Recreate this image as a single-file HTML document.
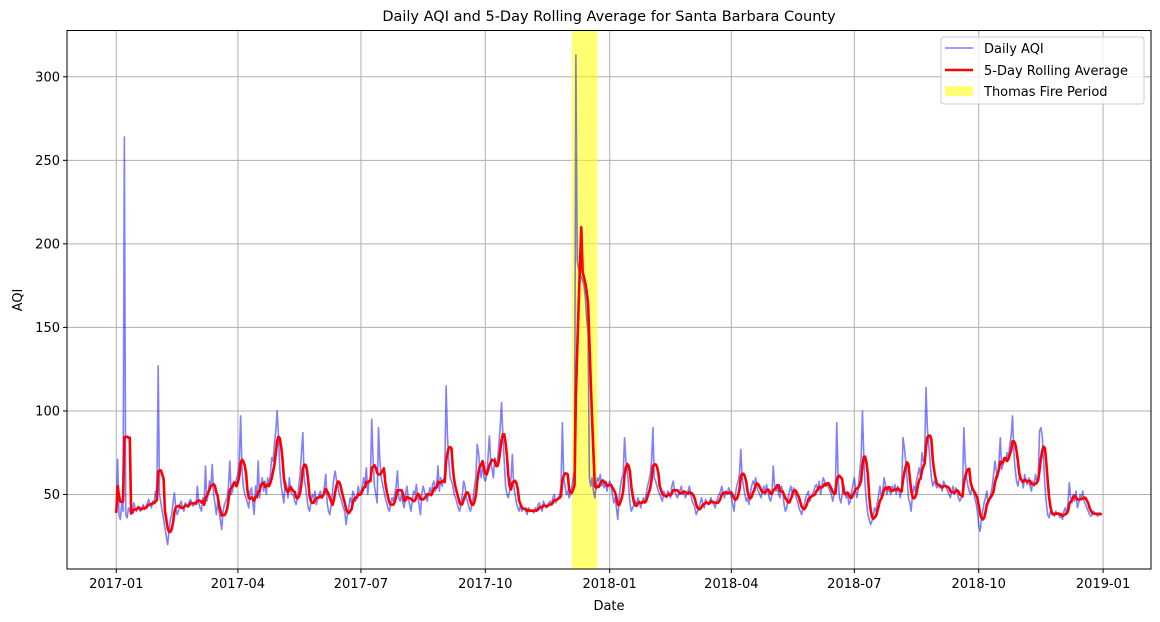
<!DOCTYPE html>
<html><head><meta charset="utf-8"><style>
body{margin:0;background:#fff;}
svg{display:block;font-family:"DejaVu Sans","Liberation Sans",sans-serif;}
</style></head><body>
<svg id="chart" width="1160" height="622" viewBox="0 0 1160 622" xmlns="http://www.w3.org/2000/svg">
<rect x="0" y="0" width="1160" height="622" fill="#fff"/>
<g id="grid"></g>
<rect id="fire" fill="#ffff00" fill-opacity="0.55"/>
<polyline id="daily" fill="none" stroke="#0000ff" stroke-opacity="0.5" stroke-width="1.6" stroke-linejoin="round"/>
<polyline id="rolling" fill="none" stroke="#ff0000" stroke-width="2.6" stroke-linejoin="round"/>
<rect x="67" y="30.5" width="1084" height="538.5" fill="none" stroke="#000" stroke-width="1"/>
<g id="xticks"></g>
<g id="yticks"></g>
<text x="609" y="21" text-anchor="middle" font-size="14.5">Daily AQI and 5-Day Rolling Average for Santa Barbara County</text>
<text x="609" y="610" text-anchor="middle" font-size="13">Date</text>
<text x="22" y="300" text-anchor="middle" font-size="13" transform="rotate(-90 22 300)">AQI</text>
<g>
<rect x="941" y="37" width="203" height="67" rx="3" fill="#fff" fill-opacity="0.8" stroke="#ccc"/>
<line x1="945" y1="48" x2="973" y2="48" stroke="#0000ff" stroke-opacity="0.5" stroke-width="1.6"/>
<text x="984" y="53" font-size="13">Daily AQI</text>
<line x1="945" y1="70" x2="973" y2="70" stroke="#ff0000" stroke-width="2.6"/>
<text x="984" y="75" font-size="13">5-Day Rolling Average</text>
<rect x="945" y="86" width="28" height="10" fill="#ffff00" fill-opacity="0.55"/>
<text x="984" y="96" font-size="13">Thomas Fire Period</text>
</g>
</svg>
<script>
const aqi2017=[
39,71,38,35,45,40,264,38,36,42,40,38,40,45,42,40,43,41,40,42,44,41,43,45,47,44,42,46,45,52,48,
127,50,45,40,35,30,25,20,28,35,38,45,51,42,38,40,44,46,42,40,45,44,43,46,47,44,43,45,
44,55,45,42,40,48,44,67,46,50,58,55,68,50,45,38,45,40,35,29,40,44,46,48,55,70,50,52,58,55,60,
62,70,97,65,55,50,48,45,42,52,54,45,38,55,50,70,48,55,60,52,58,50,60,55,62,72,70,80,88,100,
85,65,55,50,45,58,55,48,60,52,50,50,46,44,48,55,62,75,87,60,55,48,42,40,45,50,48,52,44,47,50,
52,48,50,55,62,45,40,38,44,52,60,64,58,55,50,48,45,42,40,32,38,42,48,45,52,50,46,48,55,50,
52,54,60,56,66,50,58,60,95,70,55,50,45,90,70,60,56,52,48,45,42,40,44,48,46,50,55,64,48,46,50,
45,42,50,55,48,44,40,46,52,50,56,48,44,38,50,55,52,48,46,50,54,50,56,58,52,55,67,52,60,55,58,
62,115,85,70,60,58,55,50,48,45,42,40,44,50,58,55,48,45,42,40,44,48,55,60,80,75,65,60,70,60,
58,62,72,85,70,65,60,72,68,70,80,90,105,85,70,55,50,48,52,60,74,55,50,45,42,40,44,40,42,41,40,
38,42,40,41,40,39,42,40,44,45,42,40,46,44,42,43,45,46,44,48,50,45,47,48,50,55,93,60,55,50,
52,48,50,55,60,65,313,190,185,182,180,178,175,168,155,147,60,55,60,52,48,55,60,58,62,55,57,54,58,52,56];
const aqi2018=[
58,55,50,45,48,42,35,48,55,60,62,84,70,65,55,45,40,42,44,46,44,48,45,42,46,48,45,50,55,58,62,
70,90,60,58,55,52,50,48,46,52,50,48,52,50,48,55,58,52,50,48,50,52,55,50,52,48,50,52,
55,50,46,44,42,38,40,42,45,48,44,42,47,45,44,46,48,45,44,42,46,48,50,52,55,50,48,52,50,54,52,
48,44,40,50,55,58,62,77,60,55,50,46,48,44,50,55,58,56,60,54,52,50,48,52,55,50,56,52,48,46,
50,67,55,52,54,50,48,55,52,44,40,42,48,52,55,50,54,52,48,46,42,40,38,42,44,48,50,52,46,48,50,
52,55,56,52,58,50,55,60,58,55,56,54,52,50,46,50,55,93,60,48,45,50,56,52,48,50,44,46,52,56,
60,52,48,55,64,72,100,72,55,45,38,35,32,34,38,42,40,45,50,55,48,52,60,56,50,54,52,50,55,52,56,
50,55,52,48,54,84,78,70,60,48,45,40,50,55,52,58,62,66,60,75,70,72,114,90,80,70,60,55,58,56,54,
56,54,55,52,58,56,54,52,50,48,52,55,50,54,52,48,46,48,50,90,70,60,55,52,50,54,52,48,45,40,
32,28,35,40,45,48,52,44,48,50,55,62,70,64,60,70,84,65,68,72,70,75,72,80,85,97,75,65,58,55,60,
60,58,54,62,58,56,60,55,52,58,55,62,58,60,88,90,85,70,55,45,38,36,40,38,39,37,40,38,39,36,
38,35,40,42,38,44,57,48,45,50,46,52,42,45,50,48,52,46,44,42,40,38,37,38,40,39,38,37,38,39,38];
const yTicks=[50,100,150,200,250,300];
const xTickLabels=["2017-01","2017-04","2017-07","2017-10","2018-01","2018-04","2018-07","2018-10","2019-01"];
const fireStart="2017-12-04", fireEnd="2017-12-23";
const startDate="2017-01-01";
const rollWindow=5;

const NS="http://www.w3.org/2000/svg";
const L=67,R=1151,T=30.5,B=569;
const DAY=86400000, t0=Date.parse(startDate);
const daily=aqi2017.concat(aqi2018);
const n=daily.length;
const dmin=-0.05*(n-1), dmax=(n-1)*1.05;
const ymin=5.4, ymax=327.7;
function dayOf(s){return (Date.parse(s)-t0)/DAY;}
function xs(d){return L+(d-dmin)/(dmax-dmin)*(R-L);}
function ys(v){return B-(v-ymin)/(ymax-ymin)*(B-T);}
const grid=document.getElementById('grid'),xg=document.getElementById('xticks'),yg=document.getElementById('yticks');
function mk(tag,attrs,parent){const e=document.createElementNS(NS,tag);for(const k in attrs)e.setAttribute(k,attrs[k]);parent.appendChild(e);return e;}
xTickLabels.forEach(lbl=>{
  const x=xs(dayOf(lbl+"-01"));
  const g=mk('line',{x1:x,x2:x,y1:T,y2:B,stroke:'#b0b0b0','stroke-width':1},grid);
  
  
  const t=mk('line',{x1:x,x2:x,y1:B,y2:B+4,stroke:'#000'},xg);
  
  
  const tx=mk('text',{x:x,y:B+19,'text-anchor':'middle','font-size':13},xg);
  tx.textContent=lbl;
  
  
});
yTicks.forEach(v=>{
  const y=ys(v);
  const g=mk('line',{x1:L,x2:R,y1:y,y2:y,stroke:'#b0b0b0','stroke-width':1},grid);
  
  
  const t=mk('line',{x1:L-4,x2:L,y1:y,y2:y,stroke:'#000'},yg);
  
  
  const tx=mk('text',{x:L-7,y:y+4.5,'text-anchor':'end','font-size':13},yg);
  tx.textContent=v;
  
  
});
const f=document.getElementById('fire');
const fx0=xs(dayOf(fireStart)),fx1=xs(dayOf(fireEnd));
f.setAttribute('x',fx0);f.setAttribute('width',fx1-fx0);f.setAttribute('y',T);f.setAttribute('height',B-T);
document.getElementById('daily').setAttribute('points',daily.map((v,i)=>xs(i).toFixed(2)+','+ys(v).toFixed(2)).join(' '));
const roll=daily.map((v,i)=>{const s=daily.slice(Math.max(0,i-rollWindow+1),i+1);return s.reduce((a,b)=>a+b,0)/s.length;});
document.getElementById('rolling').setAttribute('points',roll.map((v,i)=>xs(i).toFixed(2)+','+ys(v).toFixed(2)).join(' '));
</script>
</body></html>
